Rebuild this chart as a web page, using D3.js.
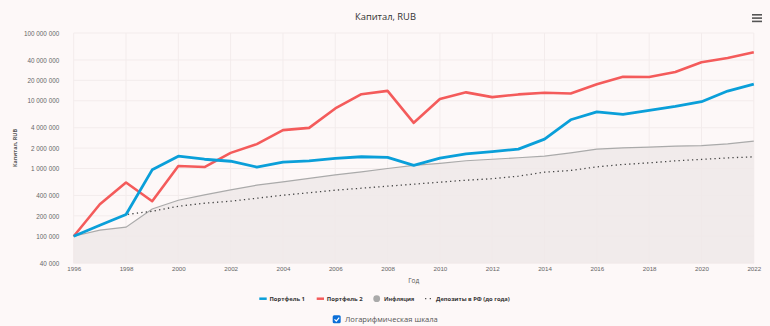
<!DOCTYPE html>
<html><head><meta charset="utf-8">
<script src="https://cdn.jsdelivr.net/npm/d3@7"></script>
<style>
body{margin:0;background:#fdf8f8;}
svg{display:block;font-family:"Open Sans","DejaVu Sans",sans-serif;}
</style></head>
<body>
<svg id="chart" width="770" height="326"></svg>
<script>
const years = d3.range(1996, 2023);
const portfolio1 = [100000,145000,209000,955000,1520000,1370000,1280000,1050000,1240000,1300000,1410000,1490000,1460000,1110000,1420000,1640000,1780000,1930000,2710000,5240000,6870000,6280000,7200000,8260000,9670000,13900000,17600000];
const portfolio2 = [100000,297000,621000,329000,1090000,1050000,1700000,2290000,3680000,3980000,7700000,12500000,14000000,4720000,10600000,13300000,11300000,12400000,13100000,12800000,17500000,22600000,22400000,26500000,36900000,42700000,51900000];
const inflation = [100000,123000,136000,253000,340000,408000,483000,567000,635000,713000,805000,892000,1000000,1110000,1190000,1300000,1370000,1440000,1520000,1700000,1930000,2020000,2070000,2140000,2180000,2310000,2540000];
const deposits = [100000,145000,209000,234000,277000,307000,329000,364000,403000,439000,478000,512000,548000,587000,628000,672000,707000,770000,883000,935000,1057000,1147000,1211000,1297000,1360000,1435000,1485000];
const yTicks = [40000,100000,200000,400000,1000000,2000000,4000000,10000000,20000000,40000000,100000000];
const xTicks = d3.range(1996, 2023, 2);
const legendItems = ["Портфель 1","Портфель 2","Инфляция","Депозиты в РФ (до года)"];

(function(){
const svg = d3.select("#chart");
const pL = 73.7, pR = 753.8, pT = 33, pB = 263.2;
const x = d3.scaleLinear().domain([1996, 2022]).range([pL, pR]);
const y = d3.scaleLog().domain([40000, 100000000]).range([pB, pT]);
const fmt = v => d3.format(",")(v).replace(/,/g, " ");
// font size that makes a text node reach a given width
function fitSize(sel, w){
  const len = sel.node().getComputedTextLength();
  const fs = parseFloat(sel.attr("font-size"));
  return fs * w / len;
}
function fit(sel, w){ sel.attr("font-size", fitSize(sel, w)); return sel; }

// grid
svg.append("g").selectAll("line").data(yTicks).join("line")
  .attr("x1", pL).attr("x2", pR).attr("y1", d=>y(d)).attr("y2", d=>y(d))
  .attr("stroke", "#f3ecec").attr("stroke-width", 1);
svg.append("g").selectAll("line").data(xTicks).join("line")
  .attr("y1", pT).attr("y2", pB).attr("x1", d=>x(d)).attr("x2", d=>x(d))
  .attr("stroke", "#f3ecec").attr("stroke-width", 1);

// axes
const yAxis = svg.append("g").attr("transform", `translate(${pL-14.5},0)`)
  .call(d3.axisLeft(y).tickValues(yTicks).tickFormat(fmt).tickSize(0));
yAxis.select(".domain").remove();
yAxis.selectAll("text").attr("fill", "#666").attr("font-size", "8px").attr("dy", "0.35em").attr("x", 0);
const yfs = fitSize(yAxis.selectAll("text").filter(d=>d===100000000), 35.3);
yAxis.selectAll("text").attr("font-size", yfs);
const xAxis = svg.append("g").attr("transform", `translate(0,${pB+3})`)
  .call(d3.axisBottom(x).tickValues(xTicks).tickFormat(d3.format("d")).tickSize(0));
xAxis.select(".domain").remove();
xAxis.selectAll("text").attr("fill", "#666").attr("font-size", "8px").attr("dy", "0.71em").attr("y", 0);
const xfs = fitSize(xAxis.selectAll("text").filter(d=>d===1996), 13.8);
xAxis.selectAll("text").attr("font-size", xfs);

// inflation area
const data = (arr) => years.map((yr,i)=>({yr, v: arr[i]}));
svg.append("path").datum(data(inflation))
  .attr("d", d3.area().x(d=>x(d.yr)).y0(pB).y1(d=>y(d.v)))
  .attr("fill", "#efe9e9").attr("opacity", 0.9);
svg.append("path").datum(data(inflation))
  .attr("d", d3.line().x(d=>x(d.yr)).y(d=>y(d.v)))
  .attr("fill", "none").attr("stroke", "#aaaaaa").attr("stroke-width", 1.2);

// deposits
svg.append("path").datum(data(deposits))
  .attr("d", d3.line().x(d=>x(d.yr)).y(d=>y(d.v)))
  .attr("fill", "none").attr("stroke", "#444").attr("stroke-width", 1.3)
  .attr("stroke-dasharray", "1.3,3.2");

// portfolios
svg.append("path").datum(data(portfolio2))
  .attr("d", d3.line().x(d=>x(d.yr)).y(d=>y(d.v)))
  .attr("fill", "none").attr("stroke", "#f45b5b").attr("stroke-width", 2.6).attr("stroke-linejoin","round");
svg.append("path").datum(data(portfolio1))
  .attr("d", d3.line().x(d=>x(d.yr)).y(d=>y(d.v)))
  .attr("fill", "none").attr("stroke", "#0a9fd9").attr("stroke-width", 2.8).attr("stroke-linejoin","round");

// titles
fit(svg.append("text").attr("x", 385.5).attr("y", 20).attr("text-anchor","middle")
  .attr("font-size","12px").attr("fill","#333").text("Капитал, RUB"), 61);
fit(svg.append("text").attr("transform","translate(17,148) rotate(-90)").attr("text-anchor","middle")
  .attr("font-size","8px").attr("font-weight","bold").attr("fill","#555").text("Капитал, RUB"), 38);
fit(svg.append("text").attr("x", (pL+pR)/2).attr("y", 283).attr("text-anchor","middle")
  .attr("font-size","8px").attr("fill","#555").text("Год"), 11);

// menu icon
svg.append("g").selectAll("rect").data([0,1,2]).join("rect")
  .attr("x", 752).attr("y", d=>14+d*3.3).attr("width", 10).attr("height", 1.6).attr("fill","#555");

// legend
const lg = svg.append("g").attr("font-weight","bold");
const ly = 298.7;
const lx = [269.5, 326.8, 384, 436];
const lw = [35.5, 36, 30.3, 74];
lg.append("line").attr("x1",259.3).attr("x2",266.7).attr("y1",ly).attr("y2",ly).attr("stroke","#0a9fd9").attr("stroke-width",2.5);
lg.append("line").attr("x1",316.7).attr("x2",324).attr("y1",ly).attr("y2",ly).attr("stroke","#f45b5b").attr("stroke-width",2.5);
lg.append("circle").attr("cx",376.7).attr("cy",ly).attr("r",3.4).attr("fill","#aaaaaa");
lg.append("line").attr("x1",425).attr("x2",432).attr("y1",ly).attr("y2",ly).attr("stroke","#555").attr("stroke-width",1.3).attr("stroke-dasharray","1.3,3.4");
lg.selectAll("text").data(legendItems).join("text")
  .attr("x",(d,i)=>lx[i]).attr("y",ly).attr("dy","0.35em").attr("font-size","8px").attr("fill","#333").text(d=>d)
  .each(function(d,i){ fit(d3.select(this), lw[i]); });

// checkbox
const cb = svg.append("g");
cb.append("rect").attr("x",332.7).attr("y",315.3).attr("width",8).attr("height",8).attr("rx",1.5).attr("fill","#0b6fd8");
cb.append("path").attr("d","M334.5,319.4 L336.3,321.1 L339.2,317.6").attr("fill","none").attr("stroke","#fff").attr("stroke-width",1.2);
fit(cb.append("text").attr("x",345).attr("y",319.6).attr("dy","0.35em").attr("font-size","10px").attr("fill","#555").text("Логарифмическая шкала"), 93);
})();
</script>
</body></html>
